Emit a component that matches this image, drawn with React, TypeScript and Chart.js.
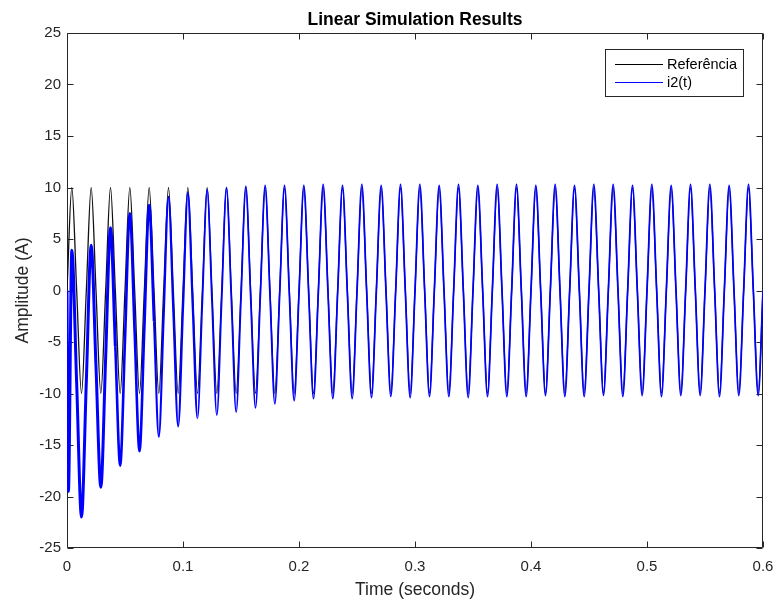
import React, { useEffect, useRef } from "react";
import { Chart, registerables } from "chart.js";

Chart.register(...registerables);

// ---- text ----
const TITLE = "Linear Simulation Results";
const X_LABEL = "Time (seconds)";
const Y_LABEL = "Amplitude (A)";
const SERIES_NAMES = ["Referência", "i2(t)"];

// ---- axes ----
const X_TICKS = [0, 0.1, 0.2, 0.3, 0.4, 0.5, 0.6];
const Y_TICKS = [-25, -20, -15, -10, -5, 0, 5, 10, 15, 20, 25];

// 36 cycles over 0.6 s -> 60 Hz
const PERIOD = 1 / 60;

// ---- Referência (values per cycle: peak, falling crossing, trough, rising crossing) ----
const refStartTimes = [0];
const refStartValues = [0];
const refPeaks = [10, 10, 10, 10, 10, 10, 10, 10, 10, 10, 10, 10, 10, 10, 10, 10, 10, 10, 10, 10, 10, 10, 10, 10, 10, 10, 10, 10, 10, 10, 10, 10, 10, 10, 10, 10];
const refFalls = [0, 0, 0, 0, 0, 0, 0, 0, 0, 0, 0, 0, 0, 0, 0, 0, 0, 0, 0, 0, 0, 0, 0, 0, 0, 0, 0, 0, 0, 0, 0, 0, 0, 0, 0, 0];
const refTroughs = [-10, -10, -10, -10, -10, -10, -10, -10, -10, -10, -10, -10, -10, -10, -10, -10, -10, -10, -10, -10, -10, -10, -10, -10, -10, -10, -10, -10, -10, -10, -10, -10, -10, -10, -10, -10];
const refRises = [0, 0, 0, 0, 0, 0, 0, 0, 0, 0, 0, 0, 0, 0, 0, 0, 0, 0, 0, 0, 0, 0, 0, 0, 0, 0, 0, 0, 0, 0, 0, 0, 0, 0, 0, 0];

// ---- i2(t) ----
const blueStartTimes = [0, 0.0012];
const blueStartValues = [0, -19.5];
const bluePeaks = [3.9, 4.4, 6.1, 7.5, 8.3, 9.1, 9.5, 9.8, 10.0, 10.1, 10.2, 10.2, 10.2, 10.3, 10.2, 10.3, 10.2, 10.3, 10.3, 10.2, 10.3, 10.2, 10.3, 10.3, 10.2, 10.3, 10.2, 10.3, 10.3, 10.2, 10.3, 10.2, 10.3, 10.3, 10.2, 10.3];
const blueFalls = [-9.0, -7.4, -5.4, -4.1, -3.0, -2.1, -1.5, -1.2, -0.9, -0.7, -0.55, -0.4, -0.3, -0.25, -0.2, -0.15, -0.1, -0.1, -0.05, 0, 0, 0, 0, 0, 0, 0, 0, 0, 0, 0, 0, 0, 0, 0, 0, 0];
const blueTroughs = [-22.0, -19.1, -17.0, -15.6, -14.2, -13.2, -12.4, -12.1, -11.8, -11.4, -11.0, -10.7, -10.5, -10.5, -10.5, -10.4, -10.3, -10.4, -10.3, -10.3, -10.4, -10.3, -10.3, -10.3, -10.2, -10.3, -10.3, -10.2, -10.3, -10.2, -10.3, -10.2, -10.2, -10.3, -10.2, -10.2];
const blueRises = [-8.8, -6.5, -4.8, -3.7, -2.6, -1.85, -1.3, -1.05, -0.85, -0.6, -0.45, -0.35, -0.25, -0.2, -0.15, -0.12, -0.1, -0.05, 0, 0, 0, 0, 0, 0, 0, 0, 0, 0, 0, 0, 0, 0, 0, 0, 0, 0];

const FONT = "'Liberation Sans', Arial, Helvetica, sans-serif";
const AXIS_COLOR = "#262626";

function buildSeries(
  startTimes: number[],
  startValues: number[],
  peaks: number[],
  falls: number[],
  troughs: number[],
  rises: number[]
) {
  const pts: { x: number; y: number }[] = [];
  startTimes.forEach((t, i) => pts.push({ x: t, y: startValues[i] }));
  for (let c = 0; c < peaks.length; c++) {
    pts.push({ x: (c + 0.25) * PERIOD, y: peaks[c] });
    pts.push({ x: (c + 0.5) * PERIOD, y: falls[c] });
    pts.push({ x: (c + 0.75) * PERIOD, y: troughs[c] });
    pts.push({ x: (c + 1) * PERIOD, y: rises[c] });
  }
  return pts;
}

const framePlugin = {
  id: "matlabFrame",
  beforeDatasetsDraw(chart: any) {
    const { ctx, chartArea: a, scales } = chart;
    const L = Math.round(a.left) + 0.5;
    const R = Math.round(a.right) - 0.5;
    const T = Math.round(a.top) + 0.5;
    const B = Math.round(a.bottom) - 0.5;
    ctx.save();
    ctx.strokeStyle = AXIS_COLOR;
    ctx.lineWidth = 1;
    ctx.beginPath();
    ctx.rect(L, T, R - L, B - T);
    const tl = 6;
    for (const v of Y_TICKS) {
      const p = Math.round(scales.y.getPixelForValue(v)) + 0.5;
      ctx.moveTo(L, p);
      ctx.lineTo(L + tl, p);
      ctx.moveTo(R, p);
      ctx.lineTo(R - tl, p);
    }
    for (const v of X_TICKS) {
      const p = Math.round(scales.x.getPixelForValue(v)) + 0.5;
      ctx.moveTo(p, B);
      ctx.lineTo(p, B - tl);
      ctx.moveTo(p, T);
      ctx.lineTo(p, T + tl);
    }
    ctx.stroke();
    ctx.restore();
  },
};

const legendPlugin = {
  id: "matlabLegend",
  afterDatasetsDraw(chart: any) {
    const { ctx, chartArea: a } = chart;
    const w = 139;
    const h = 48;
    const right = Math.round(a.right) - 19;
    const left = right - w;
    const top = Math.round(a.top) + 16;
    ctx.save();
    ctx.fillStyle = "#ffffff";
    ctx.fillRect(left, top, w, h);
    ctx.strokeStyle = AXIS_COLOR;
    ctx.lineWidth = 1;
    ctx.strokeRect(left + 0.5, top + 0.5, w - 1, h - 1);
    const colors = ["#000000", "#0000ff"];
    ctx.font = `14.5px ${FONT}`;
    ctx.textBaseline = "middle";
    ctx.textAlign = "left";
    SERIES_NAMES.forEach((name, i) => {
      const y = top + 15.5 + i * 18;
      ctx.strokeStyle = colors[i];
      ctx.lineWidth = 1;
      ctx.beginPath();
      ctx.moveTo(left + 10, y);
      ctx.lineTo(left + 58, y);
      ctx.stroke();
      ctx.fillStyle = "#000000";
      ctx.fillText(name, left + 62, y + 0.5);
    });
    ctx.restore();
  },
};

export default function App() {
  const ref = useRef<HTMLCanvasElement>(null);
  useEffect(() => {
    const refData = buildSeries(refStartTimes, refStartValues, refPeaks, refFalls, refTroughs, refRises);
    const blueData = buildSeries(blueStartTimes, blueStartValues, bluePeaks, blueFalls, blueTroughs, blueRises);
    const chart = new Chart(ref.current as HTMLCanvasElement, {
      type: "line",
      data: {
        datasets: [
          {
            label: SERIES_NAMES[0],
            data: refData,
            borderColor: "#111111",
            borderWidth: 1.3,
            pointRadius: 0,
            fill: false,
            cubicInterpolationMode: "monotone",
            tension: 0.4,
            order: 2,
          },
          {
            label: SERIES_NAMES[1],
            data: blueData,
            borderColor: "#0000ff",
            borderWidth: 1.7,
            pointRadius: 0,
            fill: false,
            cubicInterpolationMode: "monotone",
            tension: 0.4,
            order: 1,
            segment: {
              borderWidth: (c: any) => {
                const x = c.p0.parsed.x;
                return x < 0.04 ? 3 : x < 0.075 ? 2.6 : x < 0.11 ? 2.1 : 1.7;
              },
            },
          },
        ],
      },
      options: {
        animation: false,
        responsive: false,
        devicePixelRatio: 1,
        layout: { padding: 0 },
        plugins: {
          legend: { display: false },
          tooltip: { enabled: false },
          title: {
            display: true,
            text: TITLE,
            fullSize: false,
            color: "#000000",
            font: { family: FONT, size: 17.5, weight: "bold" },
            padding: { top: 9.5, bottom: 2.5 },
          },
        },
        scales: {
          x: {
            type: "linear",
            min: 0,
            max: 0.6,
            afterBuildTicks: (s: any) => {
              s.ticks = X_TICKS.map((v) => ({ value: v }));
            },
            afterFit: (s: any) => {
              s.height = 54;
              s.paddingRight = 13;
              s.paddingLeft = 0;
            },
            grid: { display: false, drawTicks: false },
            border: { display: false },
            ticks: {
              color: AXIS_COLOR,
              font: { family: FONT, size: 15 },
              padding: 10,
              maxRotation: 0,
              callback: (v: any) => String(Math.round(Number(v) * 10) / 10),
            },
            title: {
              display: true,
              text: X_LABEL,
              color: AXIS_COLOR,
              font: { family: FONT, size: 17.5 },
              padding: { top: 0, bottom: 1.5 },
            },
          },
          y: {
            type: "linear",
            min: -25,
            max: 25,
            afterBuildTicks: (s: any) => {
              s.ticks = Y_TICKS.map((v) => ({ value: v }));
            },
            afterFit: (s: any) => {
              s.width = 67;
              s.paddingTop = 0;
              s.paddingBottom = 0;
            },
            grid: { display: false, drawTicks: false },
            border: { display: false },
            ticks: {
              color: AXIS_COLOR,
              font: { family: FONT, size: 15 },
              padding: 6,
              callback: (v: any) => String(v),
            },
            title: {
              display: true,
              text: Y_LABEL,
              color: AXIS_COLOR,
              font: { family: FONT, size: 17.5 },
              padding: { top: 12.5, bottom: 0 },
            },
          },
        },
      },
      plugins: [framePlugin, legendPlugin],
    } as any);
    return () => chart.destroy();
  }, []);
  return (
    <div style={{ position: "absolute", left: 0, top: 0, width: 776, height: 602, background: "#ffffff" }}>
      <canvas ref={ref} width={776} height={602} style={{ display: "block" }} />
    </div>
  );
}
